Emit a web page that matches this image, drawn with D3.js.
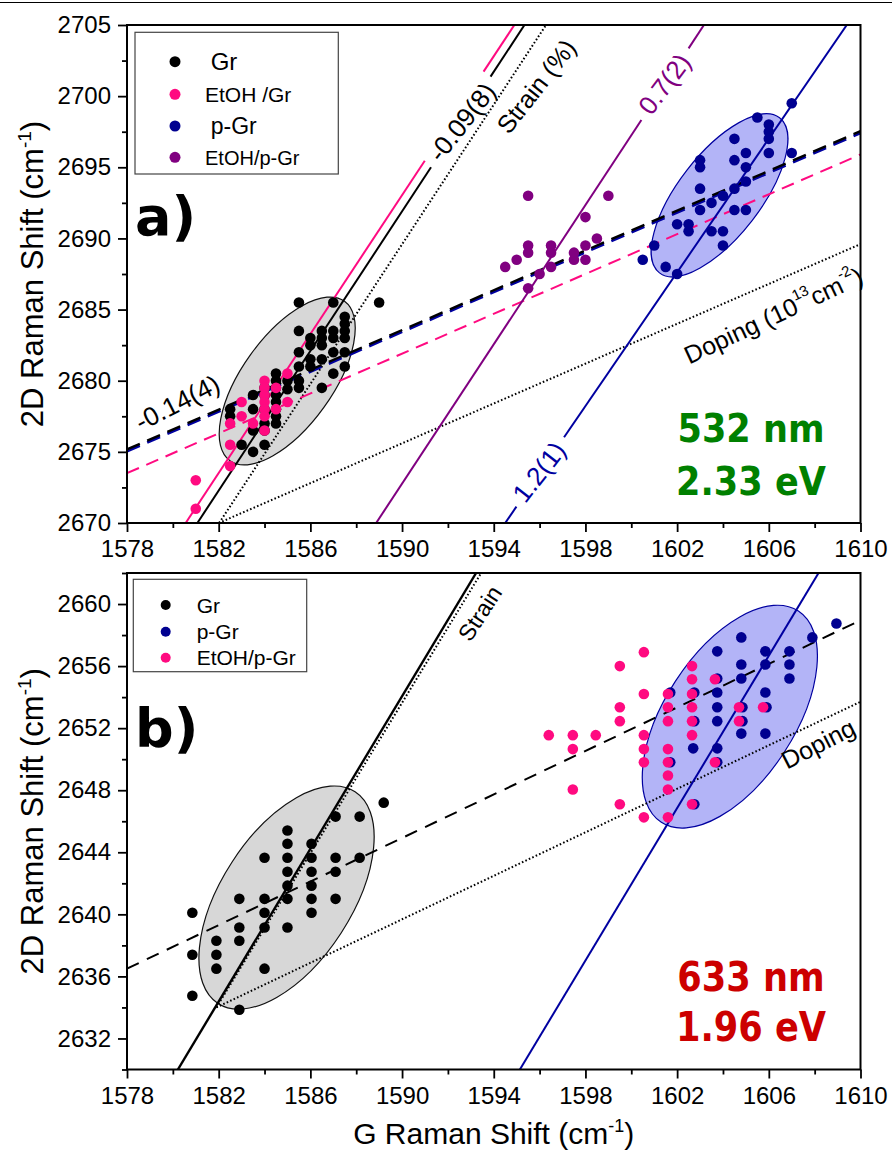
<!DOCTYPE html>
<html><head><meta charset="utf-8">
<script src="https://cdn.jsdelivr.net/npm/d3@7/dist/d3.min.js"></script>
<style>
body{margin:0;background:#fff}
svg{display:block}
text{font-family:"Liberation Sans",Arial,Helvetica,sans-serif}
</style>
</head><body>
<svg id="chart" width="892" height="1153"></svg>
<script>
// ---------------- DATA ----------------
const xTickValues = [1578,1582,1586,1590,1594,1598,1602,1606,1610];
const xMinorTicks = [1580,1584,1588,1592,1596,1600,1604,1608];
const yTicksA = [2670,2675,2680,2685,2690,2695,2700,2705];
const yMinorA = [2672.5,2677.5,2682.5,2687.5,2692.5,2697.5,2702.5];
const yTicksB = [2632,2636,2640,2644,2648,2652,2656,2660];
const yMinorB = [2630,2634,2638,2642,2646,2650,2654,2658,2662];

// Panel a (532 nm) : [G, 2D]
const grA = [[1585.5,2685.5],[1587,2685.5],[1589,2685.5],[1585.5,2683.5],[1587.5,2684.5],[1587.5,2684],[1587.5,2683.5],[1587.5,2683],[1587,2683.5],[1587,2683],[1586.5,2683.5],[1586.5,2683],[1586.5,2682.5],[1586,2683],[1586,2682.5],[1585.5,2682],[1586,2681.5],[1586,2681],[1586.5,2681.5],[1587,2682],[1587.5,2682],[1587.5,2681],[1587,2680.5],[1585.5,2681],[1585.5,2680],[1585.5,2679.5],[1586.5,2679.5],[1584.5,2680.5],[1584.5,2680],[1584.5,2679.5],[1584.5,2679],[1584.5,2678.5],[1584.5,2678],[1584.5,2677.5],[1584.5,2677],[1585,2680],[1585,2679.4],[1584,2679.5],[1584,2679],[1584,2678],[1584,2677],[1584,2676.5],[1583.5,2679],[1583.5,2678],[1583.5,2676.5],[1583.5,2675],[1582.5,2678],[1582.5,2677.5],[1583,2675.5],[1584,2675.5]];
const etohGrA = [[1581,2673],[1581,2671],[1582.5,2674],[1582.5,2675.5],[1582.5,2677],[1583,2678.5],[1583,2677.5],[1583.5,2677],[1584,2680],[1584,2679.5],[1584,2679],[1584,2678.5],[1584,2678],[1584,2677.5],[1584,2676.5],[1584.5,2679.5],[1584.5,2678],[1585,2680.5],[1585,2678.5]];
const pGrA = [[1607,2699.5],[1605.5,2698.5],[1606,2698],[1606,2697.5],[1606,2697],[1604.5,2697],[1606,2696],[1607,2696],[1605,2696],[1604.5,2695.5],[1603,2695.5],[1603,2695],[1605,2695],[1603,2693.5],[1604.5,2693.5],[1605,2694],[1604,2693],[1603.5,2692.5],[1603,2692],[1604.5,2692],[1605,2692],[1602,2691],[1602.5,2691],[1602.5,2690.5],[1603.5,2690.5],[1604,2690.5],[1604,2689.5],[1601,2689.5],[1600.5,2688.5],[1601.5,2688],[1602,2687.5]];
const etohPGrA = [[1595.5,2693],[1599,2693],[1598,2691.5],[1598.5,2690],[1598,2689.5],[1598,2688.5],[1597.5,2689],[1597.5,2688.5],[1596.5,2689.5],[1596.5,2689],[1596.5,2688],[1596,2687.5],[1595.5,2689.5],[1595.5,2689],[1595.5,2686.5],[1595,2688.5],[1594.5,2688]];

// Panel b (633 nm)
const grB = [[1589.2,2647.2],[1588.15,2646.3],[1587.1,2646.3],[1585,2645.4],[1585,2644.55],[1586.05,2644.55],[1584,2643.65],[1585,2643.65],[1586.05,2643.65],[1587.1,2643.65],[1588.15,2643.65],[1585,2642.75],[1586.05,2642.75],[1587.1,2642.75],[1585,2641.85],[1586.05,2641.85],[1582.9,2641],[1584,2641],[1585,2641],[1586.05,2641],[1587.1,2641],[1584,2640.1],[1586.05,2640.1],[1580.85,2640.1],[1582.9,2639.15],[1584,2639.15],[1585,2639.15],[1581.9,2638.3],[1582.9,2638.3],[1581.9,2637.4],[1580.85,2637.4],[1581.9,2636.5],[1584,2636.5],[1580.85,2634.75],[1582.9,2633.85]];
const pGrB = [[1608.95,2658.75],[1607.9,2657.85],[1604.8,2657.85],[1603.75,2656.95],[1605.85,2656.95],[1606.9,2656.95],[1604.8,2656.1],[1605.85,2656.1],[1606.9,2656.1],[1604.8,2655.2],[1606.9,2655.2],[1603.75,2655.2],[1603.75,2654.3],[1605.85,2654.3],[1602.75,2654.3],[1601.7,2654.3],[1603.75,2653.35],[1604.85,2653.35],[1605.9,2653.35],[1602.75,2652.45],[1603.75,2652.45],[1604.85,2652.45],[1604.8,2651.65],[1605.85,2651.65],[1602.7,2650.7],[1603.75,2650.7],[1601.7,2649.8],[1603.75,2649.8],[1602.75,2647.1]];
const etohPGrB = [[1600.55,2656.9],[1599.5,2656],[1602.65,2656],[1602.65,2655.15],[1603.65,2655.15],[1600.55,2654.2],[1601.6,2654.2],[1602.65,2654.2],[1599.5,2653.35],[1601.6,2653.35],[1602.65,2653.35],[1604.7,2653.35],[1605.75,2653.35],[1599.5,2652.45],[1601.6,2652.45],[1602.65,2652.45],[1604.7,2652.45],[1596.4,2651.55],[1597.45,2651.55],[1598.45,2651.55],[1600.55,2651.55],[1602.65,2651.55],[1597.45,2650.65],[1600.55,2650.65],[1601.6,2650.65],[1600.55,2649.8],[1601.6,2649.8],[1603.65,2649.8],[1601.6,2648.95],[1597.45,2648.05],[1601.6,2648.05],[1599.5,2647.1],[1602.65,2647.1],[1600.55,2646.25],[1601.6,2646.25]];

// Lines: endpoints [x1,x2],[y1,y2]; optional gap (2D range left open for a label)
const linesA = {
  etohGrFit:  {x:[1580.56,1594.9],  y:[2670,2705], gap:[2695.46,2701.72]},
  grFit:      {x:[1581.07,1595.34], y:[2670,2705], gap:[2695.0,2701.37]},
  strainAxis: {x:[1582.02,1596.28], y:[2670,2705]},
  dopingAxis: {x:[1582.0,1610],     y:[2670,2689.6]},
  etohPGrFit: {x:[1588.87,1603.17], y:[2670,2705], gap:[2698.32,2703.36]},
  pGrFit:     {x:[1594.5,1609.4],   y:[2670,2705], gap:[2671.15,2676.03]},
  dopeFit:    {x:[1578,1610],       y:[2675.13,2697.5]},
  etohDopeFit:{x:[1578,1610],       y:[2673.5,2695.9]}
};
const linesB = {
  grFit:      {x:[1580.22,1593.23], y:[2630,2662]},
  strainAxis: {x:[1581.9,1593.45],  y:[2634,2662]},
  dopingAxis: {x:[1581.9,1610],     y:[2634,2653.7]},
  dopeFit:    {x:[1578,1610],       y:[2636.5,2658.95]},
  pGrFit:     {x:[1595.14,1608.17], y:[2630,2662]}
};
// Ellipses: center [G,2D], major-axis tip [G,2D], minor/major ratio
const ellipsesA = [
  {c:[1584.99,2679.98], tip:[1587.49,2685.58], ratio:0.46, kind:"gray"},
  {c:[1603.85,2693.03], tip:[1606.47,2698.48], ratio:0.42, kind:"blue"}
];
const ellipsesB = [
  {c:[1584.96,2641.08], tip:[1587.95,2647.9], ratio:0.516, kind:"gray"},
  {c:[1604.3,2652.74],  tip:[1607.29,2659.55], ratio:0.516, kind:"blue"}
];
const legendA = ["Gr","EtOH /Gr","p-Gr","EtOH/p-Gr"];
const legendB = ["Gr","p-Gr","EtOH/p-Gr"];

// ---------------- STYLE / LAYOUT ----------------
const BLACK="#000", PINK="#ff0a80", NAVY="#000090", NAVYL="#0000a0", PURPLE="#800080";
const L=127, R=860.5;
const PA={top:25,bottom:523}, PB={top:573,bottom:1069.5};
const svg=d3.select("#chart");
const x=d3.scaleLinear().domain([1578,1610]).range([L,R]);
const yA=d3.scaleLinear().domain([2670,2705]).range([PA.bottom,PA.top]);
const yB=d3.scaleLinear().domain([2630,2662]).range([PB.bottom,PB.top]);

// top border of the figure
svg.append("line").attr("x1",0).attr("x2",892).attr("y1",2.5).attr("y2",2.5).attr("stroke","#000").attr("stroke-width",1.2);

const defs=svg.append("defs");
function clip(id,P){defs.append("clipPath").attr("id",id).append("rect").attr("x",L).attr("y",P.top).attr("width",R-L).attr("height",P.bottom-P.top);}
clip("clipA",PA); clip("clipB",PB);

function drawEllipses(g,list,y){
  list.forEach(e=>{
    const cx=x(e.c[0]), cy=y(e.c[1]), tx=x(e.tip[0]), ty=y(e.tip[1]);
    const a=Math.hypot(tx-cx,ty-cy), ang=Math.atan2(ty-cy,tx-cx)*180/Math.PI;
    g.append("ellipse").attr("cx",0).attr("cy",0).attr("rx",a).attr("ry",a*e.ratio)
      .attr("transform",`translate(${cx},${cy}) rotate(${ang})`)
      .attr("fill",e.kind==="gray"?"#d7d7d7":"#b3b4f7")
      .attr("stroke",e.kind==="gray"?"#111":NAVYL).attr("stroke-width",1.2);
  });
}
const lineGen=(y)=>d3.line().x(d=>x(d[0])).y(d=>y(d[1]));
function pieces(l){
  const xAt=v=>l.x[0]+(v-l.y[0])*(l.x[1]-l.x[0])/(l.y[1]-l.y[0]);
  if(!l.gap) return [[[l.x[0],l.y[0]],[l.x[1],l.y[1]]]];
  return [[[l.x[0],l.y[0]],[xAt(l.gap[0]),l.gap[0]]],[[xAt(l.gap[1]),l.gap[1]],[l.x[1],l.y[1]]]];
}
function drawLine(g,l,y,st,dy=0){
  pieces(l).forEach(p=>{
    g.append("path").attr("d",lineGen(y)(p)).attr("fill","none")
      .attr("stroke",st.c).attr("stroke-width",st.w)
      .attr("stroke-dasharray",st.dash||null)
      .attr("transform",dy?`translate(0,${dy})`:null);
  });
}
function drawPoints(g,data,y,color,r=5.3){
  g.selectAll(null).data(data).enter().append("circle")
    .attr("cx",d=>x(d[0])).attr("cy",d=>y(d[1])).attr("r",r).attr("fill",color);
}
function drawAxes(P,y,major,minor){
  const gx=svg.append("g").attr("transform",`translate(0,${P.bottom})`);
  gx.call(d3.axisBottom(x).tickValues(xTickValues).tickSize(9).tickPadding(8).tickFormat(d3.format("d")));
  const gxm=svg.append("g").attr("transform",`translate(0,${P.bottom})`);
  gxm.call(d3.axisBottom(x).tickValues(xMinorTicks).tickSize(5).tickFormat(""));
  const gy=svg.append("g").attr("transform",`translate(${L},0)`);
  gy.call(d3.axisLeft(y).tickValues(major).tickSize(9).tickPadding(7).tickFormat(d3.format("d")));
  const gym=svg.append("g").attr("transform",`translate(${L},0)`);
  gym.call(d3.axisLeft(y).tickValues(minor).tickSize(5).tickFormat(""));
  [gx,gxm,gy,gym].forEach(g=>{
    g.select(".domain").remove();
    g.selectAll(".tick line").attr("stroke","#000").attr("stroke-width",1.8);
    g.selectAll(".tick text").attr("font-size",24).attr("fill","#000")
      .style("font-family","'Liberation Sans',Arial,sans-serif");
  });
  svg.append("rect").attr("x",L).attr("y",P.top).attr("width",R-L).attr("height",P.bottom-P.top)
    .attr("fill","none").attr("stroke","#000").attr("stroke-width",2);
}
function rotLabel(g,txt,px,py,ang,size,color,parts){
  const t=g.append("text").attr("transform",`translate(${px},${py}) rotate(${ang})`)
    .attr("text-anchor","middle").attr("dominant-baseline","central")
    .attr("font-size",size).attr("fill",color);
  if(parts){
    parts.forEach(p=>{
      const s=t.append("tspan").text(p.t);
      if(p.sup) s.attr("font-size",size*0.6);
      if(p.dy) s.attr("dy",p.dy);
    });
  } else t.text(txt);
  return t;
}
function yTitle(P,cy){
  const t=svg.append("text").attr("transform",`translate(43,${cy}) rotate(-90)`)
    .attr("text-anchor","middle").attr("font-size",31).attr("fill","#000");
  t.append("tspan").text("2D Raman Shift (cm");
  t.append("tspan").text("-1").attr("font-size",19).attr("dy",-12);
  t.append("tspan").text(")").attr("dy",12);
}
function legend(items,colors,box,cxDot,rows,textX,sizes,r){
  svg.append("rect").attr("x",box[0]).attr("y",box[1]).attr("width",box[2]).attr("height",box[3])
    .attr("fill","#fff").attr("stroke","#444").attr("stroke-width",1.2);
  items.forEach((s,i)=>{
    svg.append("circle").attr("cx",cxDot).attr("cy",rows[i]).attr("r",r).attr("fill",colors[i]);
    svg.append("text").attr("x",textX[i]).attr("y",rows[i]+sizes[i]*0.36).attr("font-size",sizes[i]).attr("fill","#000").text(s);
  });
}
function bigText(txt,px,py,color,size,sx){
  svg.append("text").attr("transform",`translate(${px},${py}) scale(${sx},1)`)
    .attr("text-anchor","middle").attr("font-size",size).attr("font-weight","bold")
    .style("font-family","'DejaVu Sans',sans-serif").attr("fill",color).text(txt);
}

// ---------------- PANEL A ----------------
const gA=svg.append("g").attr("clip-path","url(#clipA)");
drawEllipses(gA,ellipsesA,yA);
drawLine(gA,linesA.strainAxis,yA,{c:BLACK,w:2,dash:"1.6,2.2"});
drawLine(gA,linesA.dopingAxis,yA,{c:BLACK,w:2,dash:"1.6,2.2"});
drawLine(gA,linesA.etohDopeFit,yA,{c:PINK,w:2,dash:"13,8"});
drawLine(gA,linesA.dopeFit,yA,{c:NAVYL,w:2.6,dash:"14,8"},1.3);
drawLine(gA,linesA.dopeFit,yA,{c:BLACK,w:2.4,dash:"14,8"},-0.6);
drawLine(gA,linesA.etohGrFit,yA,{c:PINK,w:2});
drawLine(gA,linesA.grFit,yA,{c:BLACK,w:2});
drawLine(gA,linesA.etohPGrFit,yA,{c:PURPLE,w:2});
drawLine(gA,linesA.pGrFit,yA,{c:NAVYL,w:2});
drawPoints(gA,grA,yA,BLACK);
drawPoints(gA,etohGrA,yA,PINK);
drawPoints(gA,pGrA,yA,NAVY);
drawPoints(gA,etohPGrA,yA,PURPLE);
drawAxes(PA,yA,yTicksA,yMinorA);

// line labels panel a (positions in data units)
const gLA=svg.append("g");
rotLabel(gLA,"-0.09(8)",x(1592.61),yA(2698.18),-52,26,BLACK);
rotLabel(gLA,"Strain (%)",x(1595.85),yA(2700.7),-52,25,BLACK);
rotLabel(gLA,"0.7(2)",x(1601.45),yA(2700.85),-53,26,PURPLE);
rotLabel(gLA,"1.2(1)",x(1595.98),yA(2673.59),-52,26,NAVYL);
rotLabel(gLA,"-0.14(4)",x(1580.2),yA(2678.45),-27,26,BLACK);
rotLabel(gLA,null,x(1606.2),yA(2684.6),-25,25,BLACK,
  [{t:"Doping (10"},{t:"13",sup:true,dy:-10},{t:"cm",dy:10},{t:"-2",sup:true,dy:-10},{t:")",dy:10}]);

legend(legendA,[BLACK,PINK,NAVY,PURPLE],[135,32.3,203.3,141.7],175,[61.7,94.3,126,157.3],[210.7,205,210.7,205],[24,21,23,20],5.5);
svg.append("text").attr("x",135).attr("y",235).attr("font-size",54).attr("font-weight","bold")
  .style("font-family","'DejaVu Sans',sans-serif").text("a)");
bigText("532 nm",751,442,"#008000",39,0.9);
bigText("2.33 eV",751,495,"#008000",39,0.9);
yTitle(PA,(PA.top+PA.bottom)/2);

// ---------------- PANEL B ----------------
const gB=svg.append("g").attr("clip-path","url(#clipB)");
drawEllipses(gB,ellipsesB,yB);
drawLine(gB,linesB.dopingAxis,yB,{c:BLACK,w:2,dash:"1.6,2.2"});
drawLine(gB,linesB.dopeFit,yB,{c:BLACK,w:2,dash:"13,9"});
drawLine(gB,linesB.grFit,yB,{c:BLACK,w:2.4});
drawLine(gB,linesB.strainAxis,yB,{c:BLACK,w:2,dash:"1.6,2.2"});
drawLine(gB,linesB.pGrFit,yB,{c:NAVYL,w:2});
drawPoints(gB,grB,yB,BLACK);
drawPoints(gB,pGrB,yB,NAVY);
drawPoints(gB,etohPGrB,yB,PINK);
drawAxes(PB,yB,yTicksB,yMinorB);
const gLB=svg.append("g");
rotLabel(gLB,"Strain",x(1593.4),yB(2659.4),-57,23,BLACK);
rotLabel(gLB,"Doping",x(1608.15),yB(2651.0),-27,25,BLACK);
legend(legendB,[BLACK,NAVY,PINK],[133.3,579.3,173.4,92.4],165.7,[605,631.7,657.7],[196.7,196.7,196.7],[21,21,21],5);
svg.append("text").attr("x",135).attr("y",747).attr("font-size",54).attr("font-weight","bold")
  .style("font-family","'DejaVu Sans',sans-serif").text("b)");
bigText("633 nm",751,991,"#cc0000",40,0.88);
bigText("1.96 eV",751,1041,"#cc0000",40,0.88);
yTitle(PB,(PB.top+PB.bottom)/2);

// x title
const xt=svg.append("text").attr("x",(L+R)/2).attr("y",1144).attr("text-anchor","middle").attr("font-size",30).attr("fill","#000");
xt.append("tspan").text("G Raman Shift (cm");
xt.append("tspan").text("-1").attr("font-size",18).attr("dy",-12);
xt.append("tspan").text(")").attr("dy",12);
</script>
</body></html>
